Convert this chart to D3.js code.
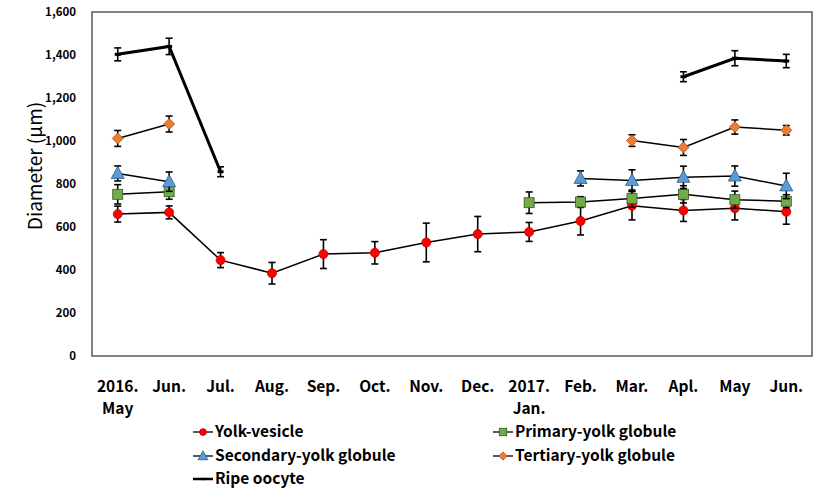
<!DOCTYPE html>
<html><head><meta charset="utf-8">
<script src="https://cdn.jsdelivr.net/npm/d3@7"></script>
<style>body{margin:0;background:#fff}svg{display:block}text{font-family:"Noto Sans CJK KR","Noto Sans",sans-serif}</style>
</head><body><svg id="c" width="827" height="492"></svg>
<script>
const months = [["2016.","May"],["Jun."],["Jul."],["Aug."],["Sep."],["Oct."],["Nov."],["Dec."],["2017.","Jan."],["Feb."],["Mar."],["Apl."],["May"],["Jun."]];
const yTicks = [0,200,400,600,800,1000,1200,1400,1600];
const yolk      = [660,668,446,385,474,480,528,567,577,628,699,677,687,671];
const yolkErr   = [37,30,35,50,67,52,90,82,44,65,66,51,54,58];
const primary   = [752,764,null,null,null,null,null,null,713,716,732,752,727,720];
const primaryErr= [45,35,null,null,null,null,null,null,50,25,40,40,40,30];
const secondary = [849,811,null,null,null,null,null,null,null,826,816,831,837,791];
const secondaryErr=[35,45,null,null,null,null,null,null,null,35,50,52,47,59];
const tertiary  = [1012,1079,null,null,null,null,null,null,null,null,1002,970,1065,1050];
const tertiaryErr=[37,37,null,null,null,null,null,null,null,null,27,37,33,22];
const ripe      = [1403,1440,857,null,null,null,null,null,null,null,null,1299,1385,1372];
const ripeErr   = [30,38,23,null,null,null,null,null,null,null,null,23,35,31];

const series = [
  {name:"Yolk-vesicle", v:yolk, e:yolkErr, shape:"circle", fill:"#FF0000", stroke:"#C00000", lw:1.5},
  {name:"Primary-yolk globule", v:primary, e:primaryErr, shape:"square", fill:"#70AD47", stroke:"#375623", lw:1.5},
  {name:"Secondary-yolk globule", v:secondary, e:secondaryErr, shape:"triangle", fill:"#5B9BD5", stroke:"#2E5C8A", lw:1.5},
  {name:"Tertiary-yolk globule", v:tertiary, e:tertiaryErr, shape:"diamond", fill:"#ED7D31", stroke:"#A0521A", lw:1.5},
  {name:"Ripe oocyte", v:ripe, e:ripeErr, shape:"dash", fill:"#000", stroke:"#000", lw:3}
];

const svg = d3.select("#c");
const L=92, R=812, T=12, B=356;
const x = d3.scalePoint().domain(d3.range(months.length)).range([L,R]).padding(0.5);
const y = d3.scaleLinear().domain([0,1600]).range([B,T]);

svg.append("rect").attr("x",L).attr("y",T).attr("width",R-L).attr("height",B-T)
  .attr("fill","none").attr("stroke","#404040").attr("stroke-width",1.3);

const ya = svg.append("g").attr("transform",`translate(${L},0)`)
  .call(d3.axisLeft(y).tickValues(yTicks).tickSize(0).tickPadding(16).tickFormat(d3.format(",")));
ya.select(".domain").remove();
ya.selectAll("text").attr("font-size",11.5).attr("font-weight","bold").attr("fill","#000")
  .attr("font-family",'"Noto Sans CJK KR","Noto Sans",sans-serif');

svg.append("text").attr("transform",`translate(42,166) rotate(-90)`)
  .attr("text-anchor","middle").attr("font-size",19).attr("fill","#000").text("Diameter (μm)");

const xl = svg.append("g");
months.forEach((m,i)=>{
  m.forEach((s,j)=>{
    xl.append("text").attr("x",x(i)).attr("y",392+j*22).attr("text-anchor","middle")
      .attr("font-size",15.5).attr("font-weight","bold").attr("fill","#000").text(s);
  });
});

function marker(g, shape, cx, cy, s, k){
  let el;
  if(shape==="circle") el=g.append("circle").attr("cx",cx).attr("cy",cy).attr("r",4.5*k);
  else if(shape==="square") el=g.append("rect").attr("x",cx-5*k).attr("y",cy-5*k).attr("width",10*k).attr("height",10*k);
  else if(shape==="triangle") el=g.append("path").attr("d",`M${cx},${cy-7*k}L${cx+6.5*k},${cy+5*k}L${cx-6.5*k},${cy+5*k}Z`);
  else if(shape==="diamond") el=g.append("path").attr("d",`M${cx},${cy-5.5*k}L${cx+5.5*k},${cy}L${cx},${cy+5.5*k}L${cx-5.5*k},${cy}Z`);
  else if(shape==="dash") el=g.append("rect").attr("x",cx-3*k).attr("y",cy-1.5*k).attr("width",6*k).attr("height",3*k);
  el.attr("fill",s.fill).attr("stroke",s.stroke).attr("stroke-width",shape==="dash"?0:0.8);
}

const line = d3.line().defined(d=>d.v!=null).x(d=>x(d.i)).y(d=>y(d.v));
series.forEach(s=>{
  const data = s.v.map((v,i)=>({v,i,e:s.e[i]}));
  const g = svg.append("g");
  g.append("path").attr("d",line(data)).attr("fill","none").attr("stroke","#000").attr("stroke-width",s.lw);
  data.filter(d=>d.v!=null).forEach(d=>{
    const cx=x(d.i), y1=y(d.v+d.e), y2=y(d.v-d.e);
    g.append("line").attr("x1",cx).attr("x2",cx).attr("y1",y1).attr("y2",y2).attr("stroke","#000").attr("stroke-width",1.6);
    [y1,y2].forEach(yy=>g.append("line").attr("x1",cx-3.5).attr("x2",cx+3.5).attr("y1",yy).attr("y2",yy).attr("stroke","#000").attr("stroke-width",1.6));
  });
  data.filter(d=>d.v!=null).forEach(d=>marker(g,s.shape,x(d.i),y(d.v),s,1));
});

const legPos = [[193,432],[493,432],[193,456],[493,456],[193,479]];
series.forEach((s,k)=>{
  const [lx,ly]=legPos[k];
  const g=svg.append("g");
  g.append("line").attr("x1",lx).attr("x2",lx+20).attr("y1",ly).attr("y2",ly).attr("stroke","#000").attr("stroke-width",s.lw===3?2.5:1.3);
  marker(g,s.shape,lx+10,ly,s,0.75);
  g.append("text").attr("x",lx+22).attr("y",ly).attr("dy","0.35em").attr("font-size",15.5)
    .attr("font-weight","bold").attr("fill","#000").text(s.name);
});
</script></body></html>
